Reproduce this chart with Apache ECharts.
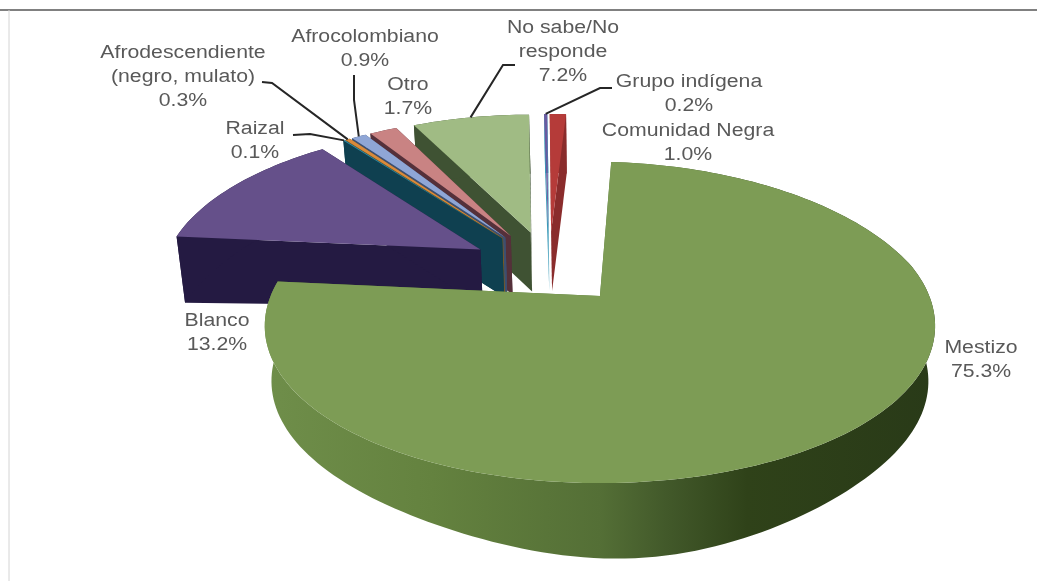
<!DOCTYPE html>
<html>
<head>
<meta charset="utf-8">
<style>html,body{margin:0;padding:0;background:#fff}#chart{width:1037px;height:581px}</style>
<script src="https://cdn.jsdelivr.net/npm/echarts@6/dist/echarts.min.js"></script>
</head>
<body>
<div id="chart"></div>
<script>
// Self-identified ethnic group, percentage of respondents (clockwise from the top)
const groupNames = ['Mestizo', 'Blanco', 'Raizal', 'Afrodescendiente (negro, mulato)', 'Afrocolombiano', 'Otro', 'No sabe/No responde', 'Grupo indígena', 'Comunidad Negra'];
const groupShares = [75.3, 13.2, 0.1, 0.3, 0.9, 1.7, 7.2, 0.2, 1.0];
const topColors = ['#7d9c55', '#65508a', '#2f8ea8', '#d98a3c', '#8fa6d6', '#c98383', '#a0bb84', '#6a5aa0', '#b53b39'];
const sideColors = ['#5a7a3a', '#241a42', '#0f4050', '#7a5a20', '#3d4f70', '#55303a', '#3f5233', '#3a9ab8', '#8a2c2c'];

// Text blocks and the elbow where a leader line leaves each one
const labelLines = [
  ['Mestizo', '75.3%'], ['Blanco', '13.2%'], ['Raizal', '0.1%'],
  ['Afrodescendiente', '(negro, mulato)', '0.3%'], ['Afrocolombiano', '0.9%'], ['Otro', '1.7%'],
  ['No sabe/No', 'responde', '7.2%'], ['Grupo indígena', '0.2%'], ['Comunidad Negra', '1.0%']
];
const labelCentres = [[981, 360], [217, 333], [255, 141], [183, 77], [365, 49], [408, 97], [563, 52], [689, 94], [688, 143]];
const leaderPaths = {
  2: [[293, 135], [310, 134]],
  3: [[262, 82], [272, 83]],
  4: [[354, 75], [354, 100]],
  6: [[515, 65], [503, 65]],
  7: [[612, 88], [600, 88]]
};

// Tilted-disc projection: plane coordinates (radius 1) to screen pixels,
// converging on the vertical through the largest slice's centre
const view = { vx: 600, x0: 0.162, fx: 318, fy: 104.2, y0: 267, p: 0.16, q: 0.18, backShear: 10, explode: 0.25, startDeg: 4 };

const toRad = Math.PI / 180;
const total = groupShares.reduce((a, b) => a + b, 0);
let running = view.startDeg;
const spans = groupShares.map(v => {
  const from = running;
  running += v / total * 360;
  return [from, running];
});

function planePoint(i, deg, r) {
  const mid = (spans[i][0] + spans[i][1]) / 2 * toRad;
  const a = deg * toRad;
  return [
    r * Math.sin(a) + view.explode * Math.sin(mid),
    -r * Math.cos(a) - view.explode * Math.cos(mid)
  ];
}
function projectTop(pt) {
  return [
    view.vx + view.fx * (pt[0] - view.x0) / (1 - view.q * pt[1]) + view.backShear * Math.min(0, pt[1]),
    (view.y0 + view.fy * pt[1]) / (1 - view.p * pt[1])
  ];
}
// Wall height on screen: tallest toward the viewer, a little right of centre
function wallDrop(pt) {
  const front = Math.max(0, Math.min(1, pt[1]));
  const back = Math.max(0, Math.min(1, -pt[1] * 4));
  const dx = pt[0] - 0.26;
  return 55 + 21 * front * Math.exp(-dx * dx / 0.25) + 4 * back + 25 * Math.max(0, -pt[0] - 0.9);
}
function projectBase(pt) {
  const t = projectTop(pt);
  return [view.vx + (t[0] - view.vx) * 0.98, t[1] + wallDrop(pt)];
}
function arcPlane(i) {
  const pts = [];
  const n = Math.max(2, Math.ceil((spans[i][1] - spans[i][0]) / 1.5));
  for (let k = 0; k <= n; k++) {
    pts.push(planePoint(i, spans[i][0] + (spans[i][1] - spans[i][0]) * k / n, 1));
  }
  return pts;
}

function sliceShape(i) {
  const arc = arcPlane(i);
  const apex = planePoint(i, 0, 0);
  const face = p => ({
    type: 'polygon',
    shape: { points: [projectTop(apex), projectTop(p), projectBase(p), projectBase(apex)] },
    style: { fill: sideColors[i] }
  });
  const wallFill = i === 0
    ? new echarts.graphic.LinearGradient(0, 0, 1, 0, [
        { offset: 0, color: '#6f8e4a' }, { offset: 0.25, color: '#64823f' },
        { offset: 0.5, color: '#546f36' }, { offset: 0.6, color: '#42592a' },
        { offset: 0.72, color: '#2f4219' }, { offset: 1, color: '#293a18' }
      ])
    : sideColors[i];
  return {
    type: 'group',
    children: [
      face(arc[0]),
      face(arc[arc.length - 1]),
      { type: 'polygon', shape: { points: arc.map(projectTop).concat(arc.map(projectBase).reverse()) }, style: { fill: wallFill } },
      { type: 'polygon', shape: { points: [projectTop(apex)].concat(arc.map(projectTop)) }, style: { fill: topColors[i] } }
    ]
  };
}

function labelShape(i) {
  const c = labelCentres[i];
  const kids = [{
    type: 'text', x: c[0], y: c[1], scaleX: 1.18,
    style: {
      text: labelLines[i].join('\n'), fill: '#595959',
      font: '18px "Liberation Sans"', lineHeight: 24, align: 'center', verticalAlign: 'middle'
    }
  }];
  if (leaderPaths[i]) {
    const mid = (spans[i][0] + spans[i][1]) / 2;
    kids.push({
      type: 'polyline',
      shape: { points: leaderPaths[i].concat([projectTop(planePoint(i, mid, 1))]) },
      style: { stroke: '#262626', lineWidth: 2, fill: null }
    });
  }
  return { type: 'group', children: kids };
}

// Painted back to front so the large slice overlaps the rest
const paintOrder = groupNames.map((_, i) => i).reverse();

const chart = echarts.init(document.getElementById('chart'), null, { renderer: 'canvas' });
chart.setOption({
  animation: false,
  backgroundColor: '#ffffff',
  graphic: [
    { type: 'line', shape: { x1: 0, y1: 10, x2: 1037, y2: 10 }, style: { stroke: '#808080', lineWidth: 2 } },
    { type: 'line', shape: { x1: 9, y1: 10, x2: 9, y2: 581 }, style: { stroke: '#d4d4d4', lineWidth: 1 } }
  ],
  series: [
    {
      type: 'custom', name: 'Grupos', coordinateSystem: 'none', silent: true, z: 2,
      data: paintOrder.map(i => ({ name: groupNames[i], value: [i, groupShares[i]] })),
      renderItem: (params, api) => sliceShape(api.value(0))
    },
    {
      type: 'custom', name: 'Etiquetas', coordinateSystem: 'none', silent: true, z: 3,
      data: groupNames.map((n, i) => ({ name: n, value: [i, groupShares[i]] })),
      renderItem: (params, api) => labelShape(api.value(0))
    }
  ]
});
</script>
</body>
</html>
